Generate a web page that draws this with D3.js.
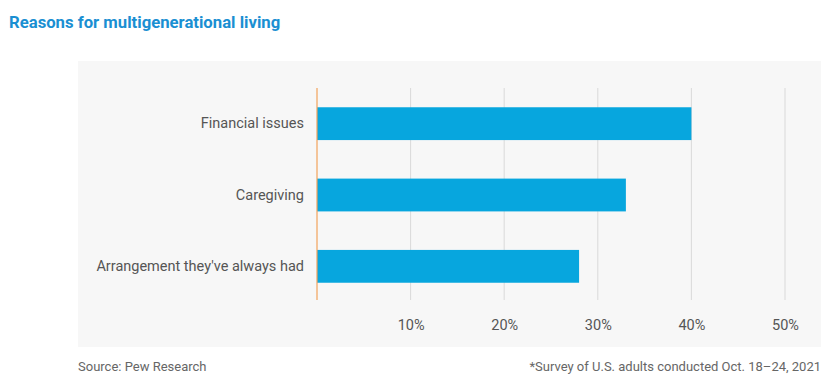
<!DOCTYPE html>
<html><head><meta charset="utf-8">
<script src="https://cdn.jsdelivr.net/npm/d3@7"></script>
<style>
body{margin:0;background:#fff;}
svg{display:block;font-family:Roboto, "Noto Sans", sans-serif;}
</style></head>
<body>
<svg id="c" width="832" height="381"></svg>
<script>
const categories = ["Financial issues", "Caregiving", "Arrangement they've always had"];
const values = [40, 33, 28];
const tickValues = [10, 20, 30, 40, 50];
const tickLabels = ["10%", "20%", "30%", "40%", "50%"];

const svg = d3.select("#c");
svg.append("text").attr("x", 9).attr("y", 28)
  .attr("fill", "#1a8fd2").attr("font-size", 16.7).attr("font-weight", 700)
  .text("Reasons for multigenerational living");

svg.append("rect").attr("x", 78).attr("y", 61).attr("width", 743).attr("height", 286).attr("fill", "#f7f7f7");

const x = d3.scaleLinear().domain([0, 50]).range([317, 785]);
const y = d3.scaleBand().domain(categories).range([88, 302]).paddingInner(0.54).paddingOuter(0.27);

svg.append("g").selectAll("line").data(tickValues).join("line")
  .attr("x1", d => x(d)).attr("x2", d => x(d)).attr("y1", 88).attr("y2", 300)
  .attr("stroke", "#d9d9d9").attr("stroke-width", 1);

svg.append("g").selectAll("rect").data(values).join("rect")
  .attr("x", x(0)).attr("y", (d, i) => y(categories[i]))
  .attr("width", d => x(d) - x(0)).attr("height", y.bandwidth())
  .attr("fill", "#07a6de");

svg.append("line").attr("x1", x(0)).attr("x2", x(0)).attr("y1", 88).attr("y2", 300)
  .attr("stroke", "#f2a25a").attr("stroke-width", 1.2);

const yAxis = d3.axisLeft(y).tickSize(0).tickPadding(13);
const ga = svg.append("g").attr("transform", `translate(${x(0)},0)`).call(yAxis);
ga.select(".domain").remove();
ga.selectAll("text").attr("font-size", 14.5).attr("fill", "#555").attr("font-family", "Roboto, sans-serif");

const xAxis = d3.axisBottom(x).tickValues(tickValues).tickFormat((d, i) => tickLabels[i]).tickSize(0).tickPadding(14);
const gx = svg.append("g").attr("transform", "translate(0,306)").call(xAxis);
gx.select(".domain").remove();
gx.selectAll("text").attr("font-size", 14.5).attr("fill", "#555").attr("font-family", "Roboto, sans-serif");

svg.append("text").attr("x", 78).attr("y", 371).attr("font-size", 13).attr("fill", "#666")
  .text("Source: Pew Research");
svg.append("text").attr("x", 821).attr("y", 371).attr("text-anchor", "end").attr("font-size", 13).attr("fill", "#666")
  .text("*Survey of U.S. adults conducted Oct. 18\u201324, 2021");
</script>
</body></html>
